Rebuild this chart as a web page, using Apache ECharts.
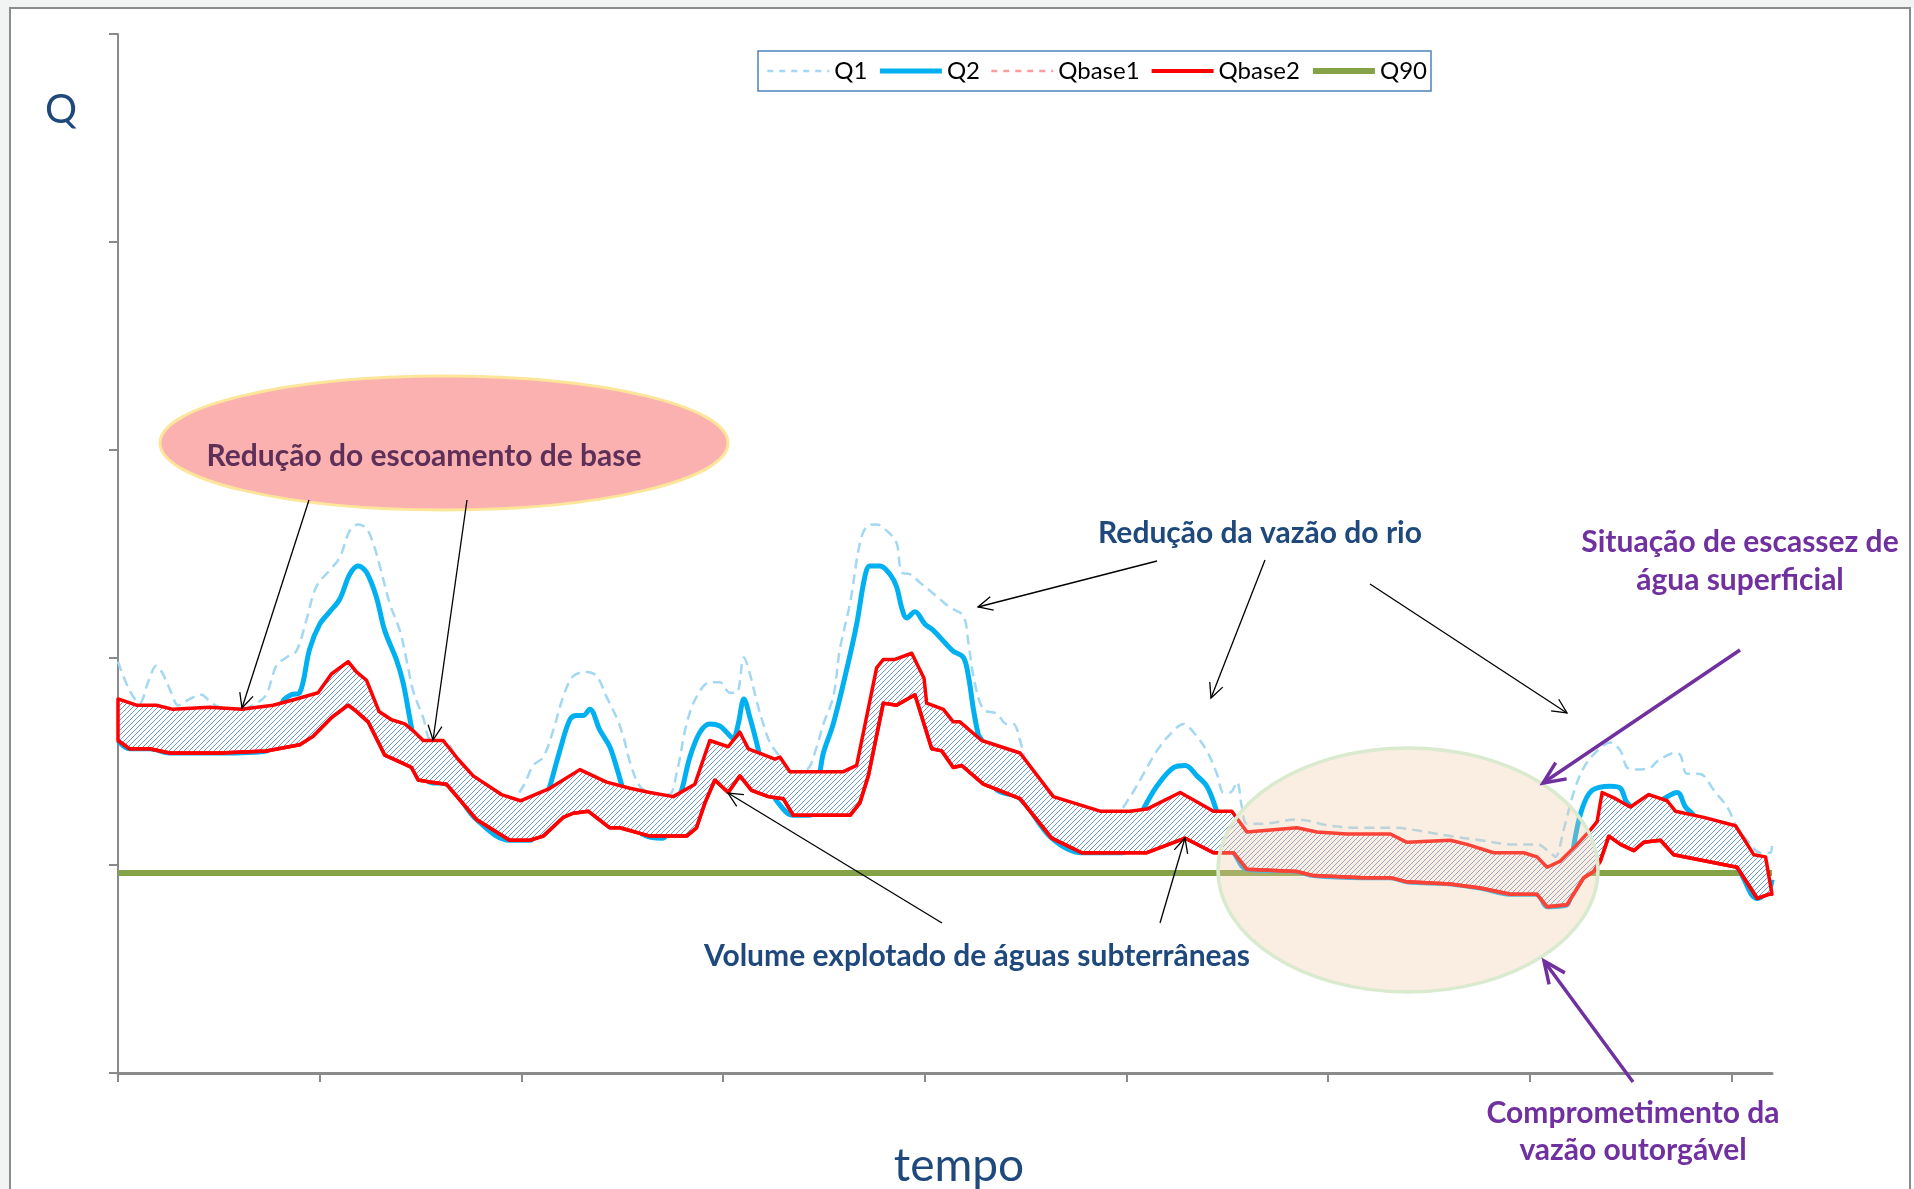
<!DOCTYPE html>
<html>
<head>
<meta charset="utf-8">
<script src="https://cdn.jsdelivr.net/npm/echarts@6/dist/echarts.min.js"></script>
<style>
html,body{margin:0;padding:0;background:#ffffff;}
#chart{width:1914px;height:1189px;}
</style>
</head>
<body>
<div id="chart"></div>
<script>
// ---------- DATA (x: time in tenths of an axis division, y: Q) ----------
const xTicks = [0, 10, 20, 30, 40, 50, 60, 70, 80];
const yTicks = [0, 1, 2, 3, 4, 5];

const Q1 = [[0,1.98],[0.58,1.84],[1.07,1.78],[1.49,1.88],[1.90,1.96],[2.23,1.92],[2.64,1.83],[2.98,1.77],[3.56,1.80],[4.13,1.82],[4.54,1.79],[5.04,1.76],[6.12,1.75],[6.86,1.78],[7.35,1.82],[7.85,1.96],[8.35,2.00],[8.84,2.03],[9.34,2.18],[9.83,2.34],[10.50,2.42],[10.99,2.48],[11.49,2.61],[11.90,2.64],[12.32,2.62],[12.65,2.55],[12.98,2.44],[13.47,2.26],[13.97,2.13],[14.30,1.99],[14.63,1.84],[15.13,1.71],[15.54,1.60],[16.12,1.60],[16.86,1.51],[17.61,1.43],[19.01,1.34],[19.43,1.31],[20.09,1.38],[20.58,1.48],[21.08,1.52],[21.58,1.65],[22.07,1.81],[22.57,1.91],[23.23,1.93],[23.73,1.91],[24.22,1.81],[24.72,1.71],[25.05,1.62],[25.40,1.49],[25.87,1.38],[26.37,1.35],[27.30,1.34],[27.69,1.44],[28.19,1.68],[28.68,1.81],[29.34,1.88],[29.84,1.88],[30.34,1.83],[30.67,1.83],[31.03,2.00],[31.33,1.92],[31.66,1.79],[31.99,1.68],[32.32,1.59],[32.82,1.52],[33.31,1.45],[34.14,1.46],[34.64,1.57],[34.97,1.68],[35.46,1.81],[35.79,2.04],[36.29,2.26],[36.78,2.55],[37.12,2.63],[37.61,2.64],[38.11,2.61],[38.60,2.55],[38.85,2.41],[39.27,2.40],[39.76,2.36],[40.26,2.32],[40.75,2.28],[41.25,2.24],[41.91,2.20],[42.16,2.07],[42.41,1.91],[42.90,1.75],[43.56,1.73],[44.06,1.68],[44.39,1.68],[44.72,1.60],[45.22,1.44],[46.37,1.33],[48.69,1.26],[49.52,1.26],[50.18,1.33],[50.84,1.44],[51.50,1.55],[52.16,1.63],[52.83,1.68],[53.32,1.64],[53.98,1.55],[54.48,1.44],[54.81,1.35],[55.14,1.35],[55.47,1.40],[55.72,1.28],[55.97,1.20],[56.79,1.20],[58.45,1.22],[60.10,1.19],[61.75,1.18],[63.41,1.18],[64.23,1.17],[66.05,1.14],[67.54,1.12],[69.19,1.10],[70.35,1.10],[71.01,1.06],[71.26,1.04],[71.67,1.17],[72.17,1.35],[72.67,1.47],[73.33,1.55],[73.99,1.59],[74.49,1.55],[74.82,1.47],[75.31,1.46],[75.97,1.47],[76.31,1.50],[77.21,1.54],[77.46,1.53],[77.79,1.44],[78.29,1.44],[78.62,1.43],[79.12,1.36],[79.78,1.28],[80.27,1.18],[80.77,1.12],[81.43,1.06],[81.93,1.06],[82,1.10]];

const Q2 = [[0,1.60],[0.58,1.56],[1.57,1.56],[2.56,1.54],[5.04,1.54],[7.35,1.55],[7.90,1.68],[8.18,1.79],[8.59,1.82],[9.01,1.83],[9.50,2.04],[10.00,2.16],[10.50,2.22],[10.99,2.28],[11.49,2.40],[11.90,2.44],[12.32,2.41],[12.81,2.29],[13.22,2.13],[13.80,1.99],[14.13,1.88],[14.46,1.71],[14.63,1.62],[15.00,1.45],[15.46,1.40],[16.28,1.39],[17.77,1.22],[19.42,1.12],[20.42,1.12],[20.90,1.22],[21.41,1.38],[21.90,1.55],[22.40,1.70],[22.73,1.72],[23.06,1.72],[23.39,1.75],[23.89,1.65],[24.38,1.57],[24.72,1.47],[25.05,1.36],[25.50,1.22],[26.00,1.15],[27.00,1.13],[27.50,1.25],[27.94,1.36],[28.35,1.52],[28.85,1.64],[29.34,1.68],[29.84,1.67],[30.17,1.64],[30.50,1.61],[30.75,1.68],[31.03,1.80],[31.33,1.71],[31.66,1.59],[31.91,1.49],[32.32,1.38],[32.65,1.31],[33.48,1.24],[34.30,1.24],[34.80,1.45],[34.97,1.54],[35.46,1.68],[36.12,1.94],[36.62,2.16],[37.03,2.39],[37.28,2.44],[37.78,2.44],[38.27,2.40],[38.60,2.34],[38.85,2.24],[39.10,2.19],[39.51,2.22],[40.01,2.16],[40.42,2.13],[41.00,2.07],[41.41,2.03],[41.91,2.00],[42.16,1.91],[42.41,1.75],[42.65,1.63],[42.82,1.60],[43.50,1.37],[44.72,1.32],[46.29,1.13],[47.78,1.06],[49.80,1.06],[50.84,1.27],[51.50,1.38],[52.33,1.47],[52.91,1.48],[53.49,1.43],[53.98,1.38],[54.40,1.28],[54.90,1.10],[55.31,1.06],[55.97,0.98],[58.45,0.97],[59.27,0.95],[61.75,0.94],[63.08,0.94],[63.90,0.92],[66.05,0.91],[67.54,0.89],[69.03,0.86],[70.35,0.86],[70.85,0.80],[71.84,0.81],[72.17,1.09],[72.58,1.27],[73.08,1.36],[73.99,1.38],[74.49,1.37],[74.82,1.30],[75.50,1.26],[76.47,1.31],[77.30,1.35],[77.71,1.28],[78.12,1.24],[79.00,1.10],[80.27,0.99],[81.27,0.84],[81.84,0.88],[82,0.93]];

const Qbase1 = [[0,1.80],[0.91,1.77],[1.90,1.77],[2.73,1.75],[4.54,1.76],[6.12,1.75],[7.69,1.77],[8.84,1.80],[9.92,1.83],[10.58,1.92],[11.41,1.98],[11.82,1.93],[12.32,1.89],[12.94,1.74],[13.56,1.70],[14.22,1.68],[14.71,1.64],[15.13,1.60],[16.12,1.60],[16.86,1.51],[17.61,1.43],[19.01,1.34],[19.95,1.31],[21.41,1.37],[22.90,1.46],[24.22,1.40],[25.38,1.37],[26.37,1.35],[27.53,1.33],[28.60,1.39],[29.34,1.60],[30.25,1.57],[30.83,1.64],[31.25,1.56],[32.57,1.51],[32.82,1.52],[33.31,1.45],[35.96,1.45],[36.62,1.48],[37.61,1.95],[37.94,1.99],[38.52,1.99],[39.35,2.02],[39.96,1.90],[40.09,1.78],[40.92,1.75],[41.41,1.69],[41.74,1.69],[42.82,1.60],[44.72,1.54],[46.37,1.33],[48.69,1.26],[50.18,1.26],[51.01,1.27],[52.66,1.35],[54.31,1.26],[55.22,1.26],[55.97,1.16],[58.45,1.18],[59.44,1.16],[60.93,1.15],[63.08,1.15],[63.90,1.11],[66.05,1.12],[66.88,1.10],[68.20,1.06],[69.69,1.06],[70.35,1.04],[70.85,0.99],[71.51,1.02],[72.34,1.10],[73.00,1.17],[73.33,1.21],[73.58,1.35],[74.24,1.32],[74.98,1.28],[75.89,1.34],[76.80,1.31],[77.21,1.26],[78.62,1.23],[80.19,1.19],[80.52,1.14],[81.10,1.05],[81.68,1.04]];

const Qbase2 = [[0,1.60],[0.58,1.56],[1.57,1.56],[2.56,1.54],[5.04,1.54],[7.35,1.55],[9.01,1.58],[9.67,1.62],[10.58,1.71],[11.41,1.77],[11.82,1.74],[12.40,1.69],[13.22,1.53],[14.13,1.49],[14.55,1.47],[14.88,1.41],[15.46,1.40],[16.28,1.39],[17.77,1.22],[19.42,1.12],[20.42,1.12],[21.08,1.14],[22.07,1.23],[22.57,1.25],[23.31,1.26],[24.38,1.18],[24.88,1.18],[26.37,1.14],[28.19,1.14],[28.68,1.18],[29.10,1.30],[29.59,1.41],[30.25,1.35],[30.83,1.43],[31.41,1.36],[32.24,1.33],[32.98,1.32],[33.48,1.24],[36.29,1.24],[36.78,1.30],[37.20,1.43],[37.94,1.78],[38.60,1.77],[39.51,1.82],[40.34,1.56],[40.84,1.55],[41.41,1.47],[41.83,1.48],[42.90,1.39],[44.72,1.32],[46.29,1.13],[47.78,1.06],[50.67,1.06],[51.01,1.06],[52.91,1.13],[54.31,1.06],[55.31,1.06],[55.97,0.98],[58.45,0.97],[59.27,0.95],[61.75,0.94],[63.08,0.94],[63.90,0.92],[66.05,0.91],[67.54,0.89],[69.03,0.86],[70.35,0.86],[70.85,0.80],[71.84,0.81],[72.67,0.94],[73.16,0.97],[73.49,1.02],[73.91,1.14],[74.49,1.10],[75.15,1.07],[75.64,1.11],[76.47,1.12],[77.13,1.05],[80.27,0.99],[81.27,0.84],[81.84,0.86],[82,0.86]];

const Q90 = [[0,0.963],[82,0.963]];

const seriesNames = ['Q1', 'Q2', 'Qbase1', 'Qbase2', 'Q90'];

// ---------- CHART ----------
const chart = echarts.init(document.getElementById('chart'), null, {renderer: 'canvas'});

// hatch pattern for the exploited-volume band
const hatch = document.createElement('canvas');
hatch.width = 5; hatch.height = 5;
(function () {
  const c = hatch.getContext('2d');
  c.fillStyle = '#ffffff'; c.fillRect(0, 0, 5, 5);
  c.strokeStyle = '#5f95d6'; c.lineWidth = 0.95;
  c.beginPath();
  c.moveTo(0, 5); c.lineTo(5, 0);
  c.moveTo(-1, 1); c.lineTo(1, -1);
  c.moveTo(4, 6); c.lineTo(6, 4);
  c.stroke();
})();

function arrow(x1, y1, x2, y2, color, w, head, ang) {
  const a = Math.atan2(y2 - y1, x2 - x1);
  const p1 = [x2 - head * Math.cos(a - ang), y2 - head * Math.sin(a - ang)];
  const p2 = [x2 - head * Math.cos(a + ang), y2 - head * Math.sin(a + ang)];
  return [
    {type: 'line', z: 60, silent: true, shape: {x1: x1, y1: y1, x2: x2, y2: y2}, style: {stroke: color, lineWidth: w}},
    {type: 'polyline', z: 60, silent: true, shape: {points: [p1, [x2, y2], p2]}, style: {stroke: color, lineWidth: w, fill: null}}
  ];
}

function txt(s, x, y, size, color, weight) {
  return {type: 'text', z: 70, silent: true, style: {
    text: s, x: x, y: y, fill: color, fontSize: size, fontWeight: weight || 'bold',
    fontFamily: 'Lato', align: 'center', verticalAlign: 'middle'}};
}

const DB = '#1f497d', PU = '#7030a0';

const graphics = [
  // frame of the slide
  {type: 'rect', z: 0, silent: true, shape: {x: 0, y: 0, width: 1914, height: 8}, style: {fill: '#f2f4f4'}},
  {type: 'rect', z: 0, silent: true, shape: {x: 0, y: 0, width: 10, height: 1189}, style: {fill: '#f2f4f4'}},
  {type: 'rect', z: 0, silent: true, shape: {x: 10, y: 8, width: 1900, height: 1200}, style: {fill: null, stroke: '#8c8c8c', lineWidth: 2}},
  // pink ellipse
  {type: 'ellipse', z: 50, silent: true, shape: {cx: 444, cy: 443, rx: 284, ry: 67}, style: {fill: '#fcb1b1', stroke: '#fde59a', lineWidth: 3}},
  txt('Redução do escoamento de base', 424, 456, 30, '#5e2f58', 'bold'),
  // scarcity ellipse
  {type: 'ellipse', z: 50, silent: true, shape: {cx: 1408, cy: 870, rx: 190, ry: 122}, style: {fill: 'rgba(240,200,168,0.33)', stroke: '#d9eacf', lineWidth: 3.5}},
  // texts
  txt('Redução da vazão do rio', 1260, 533, 30, DB),
  txt('Situação de escassez de', 1740, 542, 30, PU),
  txt('água superficial', 1740, 580, 30, PU),
  txt('Volume explotado de águas subterrâneas', 977, 956, 30, DB),
  txt('Comprometimento da', 1633, 1113, 30, PU),
  txt('vazão outorgável', 1633, 1150, 30, PU),
  txt('Q', 61, 110, 40, DB, 'normal'),
  txt('tempo', 959, 1166, 46, DB, 'normal')
]
  .concat(arrow(309, 500, 242, 708, '#000', 1.3, 16, 0.45))
  .concat(arrow(467, 500, 433, 740, '#000', 1.3, 16, 0.45))
  .concat(arrow(1157, 561, 978, 607, '#000', 1.3, 16, 0.45))
  .concat(arrow(1265, 560, 1211, 698, '#000', 1.3, 16, 0.45))
  .concat(arrow(1370, 584, 1567, 713, '#000', 1.3, 16, 0.45))
  .concat(arrow(942, 923, 728, 793, '#000', 1.3, 16, 0.45))
  .concat(arrow(1160, 923, 1185, 838, '#000', 1.3, 16, 0.45))
  .concat(arrow(1740, 650, 1543, 783, PU, 3.5, 24, 0.42))
  .concat(arrow(1633, 1082, 1544, 961, PU, 3.5, 24, 0.42));

const legendStyles = {
  Q1: {color: '#a3d8f2', width: 2.5, type: [6, 6]},
  Q2: {color: '#00b0f0', width: 5, type: 'solid'},
  Qbase1: {color: '#ff9c9c', width: 2.5, type: [6, 6]},
  Qbase2: {color: '#ff0000', width: 4, type: 'solid'},
  Q90: {color: '#84a247', width: 6, type: 'solid'}
};

const option = {
  animation: false,
  backgroundColor: '#ffffff',
  grid: {left: 118, right: 142, top: 34, bottom: 116, containLabel: false},
  legend: {
    data: seriesNames.map(n => ({name: n, lineStyle: legendStyles[n]})),
    left: 758, top: 51,
    orient: 'horizontal',
    backgroundColor: '#ffffff',
    borderColor: '#4f81bd', borderWidth: 1.5, borderRadius: 0,
    padding: [8, 4, 8, 8],
    itemGap: 10, itemWidth: 62, itemHeight: 14,
    itemStyle: {opacity: 0, borderWidth: 0},
    textStyle: {fontFamily: 'Lato', fontSize: 24, color: '#000'},
    selectedMode: false
  },
  xAxis: {
    type: 'value', min: 0, max: 82, interval: 10,
    axisLine: {show: true, onZero: false, lineStyle: {color: '#8a8a8a', width: 3}},
    axisTick: {show: true, length: 9, customValues: xTicks, lineStyle: {color: '#8a8a8a', width: 2}},
    axisLabel: {show: false},
    splitLine: {show: false}
  },
  yAxis: {
    type: 'value', min: 0, max: 5, interval: 1,
    axisLine: {show: true, lineStyle: {color: '#8a8a8a', width: 2}},
    axisTick: {show: true, length: 9, customValues: yTicks, lineStyle: {color: '#8a8a8a', width: 2}},
    axisLabel: {show: false},
    splitLine: {show: false}
  },
  series: [
    {name: 'Q90', type: 'line', data: Q90, symbol: 'none', z: 1,
      lineStyle: {color: '#84a247', width: 6}, itemStyle: {color: '#84a247'}},
    {name: 'Q1', type: 'line', data: Q1, symbol: 'none', z: 2, smooth: 0.35,
      lineStyle: {color: '#a3d8f2', width: 2.5, type: [10, 6]}, itemStyle: {color: '#a3d8f2'}},
    {name: 'Q2', type: 'line', data: Q2, symbol: 'none', z: 2, smooth: 0.35,
      lineStyle: {color: '#00b0f0', width: 5}, itemStyle: {color: '#00b0f0'}},
    {name: 'Qbase1', type: 'line', data: Qbase1, symbol: 'none', z: 2,
      lineStyle: {color: '#ff9c9c', width: 2.5, type: [7, 6]}, itemStyle: {color: '#ff9c9c'}},
    {type: 'custom', name: 'band', z: 3, silent: true,
      data: [[0, 0]],
      renderItem: function (params, api) {
        const pts = Qbase1.map(p => api.coord(p))
          .concat(Qbase2.slice().reverse().map(p => api.coord(p)));
        return {type: 'polygon', shape: {points: pts},
          style: {fill: {image: hatch, repeat: 'repeat'}, stroke: '#ff0000', lineWidth: 3.5, lineJoin: 'round'}};
      }
    },
    {name: 'Qbase2', type: 'line', data: Qbase2, symbol: 'none', z: 4,
      lineStyle: {color: '#ff0000', width: 3.5}, itemStyle: {color: '#ff0000'}}
  ],
  graphic: graphics
};
chart.setOption(option);
</script>
</body>
</html>
